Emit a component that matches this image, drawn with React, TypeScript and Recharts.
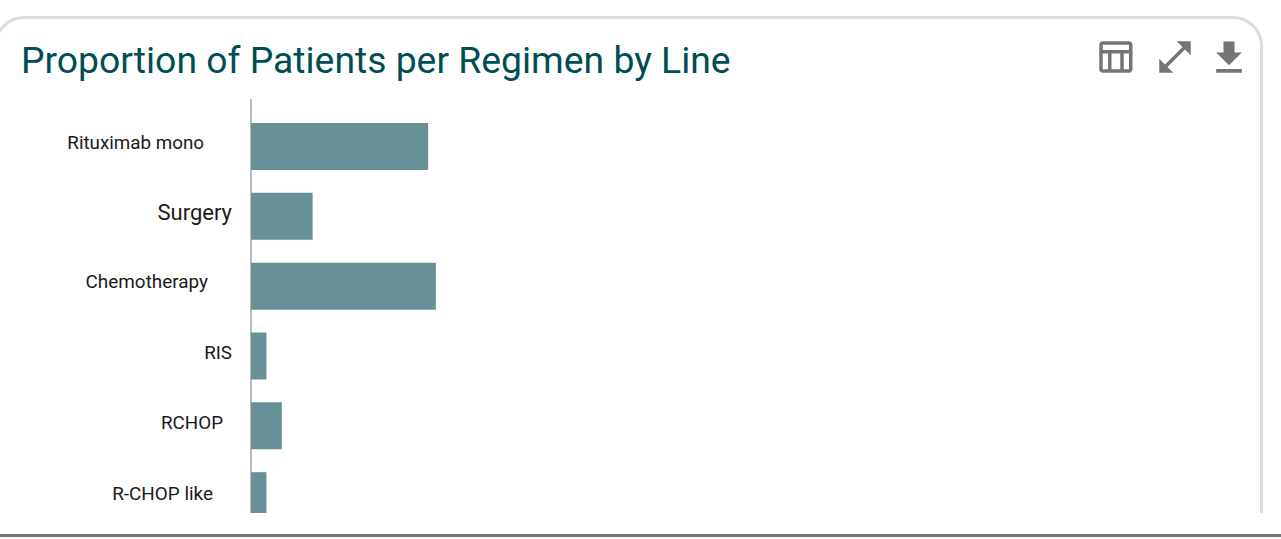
import { Bar, BarChart, XAxis, YAxis } from "recharts";

const regimens = ["Rituximab mono", "Surgery", "Chemotherapy", "RIS", "RCHOP", "R-CHOP like"];
const proportions = [11.5, 4, 12, 1, 2, 1];

const chartData = regimens.map((name, i) => ({ name, value: proportions[i] }));

// the source labels are not lined up, each one sits at its own place
const labelRight = [204, 232, 208, 232, 223, 213];
const labelSize = [18.8, 22, 18.9, 18.8, 18.8, 18.9];
const labelLift = [3.5, 4, 5, 3.5, 3.5, 2.5];

const RegimenTick = ({ y, index, payload }: any) => (
  <text
    x={labelRight[index]}
    y={y - labelLift[index]}
    textAnchor="end"
    dominantBaseline="central"
    fontSize={labelSize[index]}
    fill="#1a1a1a"
  >
    {payload.value}
  </text>
);

const icon = (left: number, top: number, size: number, d: string) => (
  <svg
    viewBox="0 0 24 24"
    width={size}
    height={size}
    style={{ position: "absolute", left, top }}
  >
    <path d={d} fill="#757575" />
  </svg>
);

export default function App() {
  return (
    <div
      style={{
        position: "absolute",
        left: 0,
        top: 0,
        width: 1281,
        height: 539,
        overflow: "hidden",
        background: "#fff",
        fontFamily: "Roboto, sans-serif",
      }}
    >
      <div
        style={{
          position: "absolute",
          left: -6,
          top: 16,
          width: 1269,
          height: 560,
          boxSizing: "border-box",
          border: "3px solid #dcdcdc",
          borderRadius: 30,
          clipPath: "inset(0 0 63px 0)",
        }}
      />
      <div
        style={{
          position: "absolute",
          left: 21,
          top: 38,
          fontSize: 37.3,
          lineHeight: "44px",
          color: "#004d54",
          whiteSpace: "nowrap",
        }}
      >
        Proportion of Patients per Regimen by Line
      </div>
      {icon(1093.5, 36, 42, "M20 3H5c-1.1 0-2 .9-2 2v14c0 1.1.9 2 2 2h15c1.1 0 2-.9 2-2V5c0-1.1-.9-2-2-2zm0 2v3H5V5h15zm-5 14h-5v-9h5v9zM5 10h3v9H5v-9zm12 9v-9h3v9h-3z")}
      {icon(1154, 36, 42, "M21 11V3h-8l3.29 3.29-10 10L3 13v8h8l-3.29-3.29 10-10z")}
      {icon(1207, 36, 44, "M19 9h-4V3H9v6H5l7 7 7-7zM5 18v2h14v-2H5z")}
      <div
        style={{
          position: "absolute",
          left: 0,
          top: 99,
          width: 1260,
          height: 414,
          overflow: "hidden",
        }}
      >
        <BarChart
          width={1260}
          height={432}
          data={chartData}
          layout="vertical"
          margin={{ top: 0, right: 0, bottom: 0, left: 0 }}
        >
          <XAxis type="number" domain={[0, 65.5]} hide />
          <YAxis
            type="category"
            dataKey="name"
            width={251}
            padding={{ top: 13, bottom: 0 }}
            axisLine={{ stroke: "#8c8c8c", strokeWidth: 1.2 }}
            tickLine={false}
            interval={0}
            tick={RegimenTick}
          />
          <Bar dataKey="value" fill="#679097" barSize={47} isAnimationActive={false} />
        </BarChart>
      </div>
      <div
        style={{
          position: "absolute",
          left: 0,
          top: 534,
          width: 1281,
          height: 3,
          background: "#777",
        }}
      />
    </div>
  );
}
